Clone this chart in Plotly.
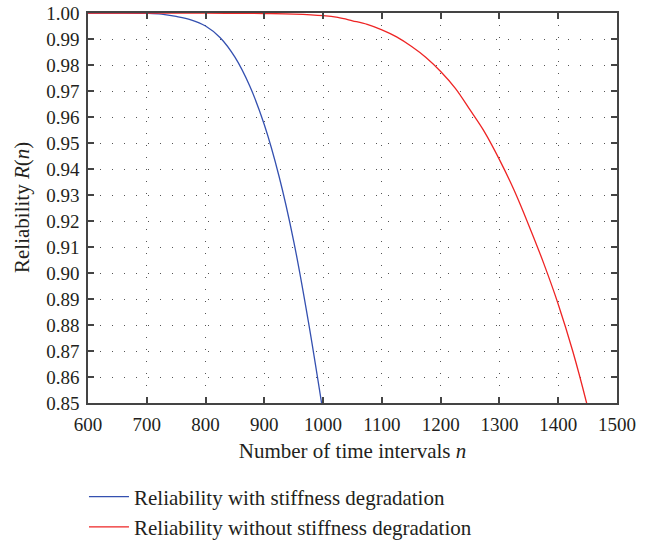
import plotly.graph_objects as go

# Data
n_with = [600, 650, 700, 725, 750, 775, 800, 825, 850, 875, 900, 925, 950, 975, 1000]
r_with = [1.0, 1.0, 0.9999, 0.9996, 0.9987, 0.9974, 0.9950, 0.9905, 0.9830, 0.9720,
          0.9570, 0.9372, 0.9122, 0.8812, 0.8462]

n_without = [600, 700, 800, 900, 950, 1000, 1025, 1050, 1075, 1100, 1125, 1150, 1175,
             1200, 1225, 1250, 1275, 1300, 1325, 1350, 1375, 1400, 1425, 1450, 1460]
r_without = [1.0, 1.0, 0.99995, 0.9998, 0.9996, 0.9990, 0.9983, 0.9970, 0.9956, 0.9935,
             0.9908, 0.9872, 0.9829, 0.9775, 0.9710, 0.9627, 0.9541, 0.9436, 0.9318,
             0.9183, 0.9039, 0.8880, 0.8697, 0.8485, 0.8390]

x_ticks = [600, 700, 800, 900, 1000, 1100, 1200, 1300, 1400, 1500]
y_ticks = [round(0.85 + 0.01 * i, 2) for i in range(16)]
y_tick_text = ["%.2f" % v for v in y_ticks]

names = ["Reliability with stiffness degradation",
         "Reliability without stiffness degradation"]
x_title = "Number of time intervals <i>n</i>"
y_title = "Reliability <i>R</i>(<i>n</i>)"

FONT = "Liberation Serif"
TXT = "#231f20"
AX = "#444444"

fig = go.Figure()
fig.add_trace(go.Scatter(x=n_with, y=r_with, mode="lines", name=names[0],
                         line=dict(color="#3450b0", width=1.3, shape="spline")))
fig.add_trace(go.Scatter(x=n_without, y=r_without, mode="lines", name=names[1],
                         line=dict(color="#ee2424", width=1.3, shape="spline")))

axis_common = dict(
    showline=True, linecolor=AX, linewidth=1.5, mirror="ticks",
    ticks="inside", ticklen=6, tickwidth=1.5, tickcolor=AX,
    showgrid=True, gridcolor="#555555", gridwidth=1, griddash="1px,11px",
    zeroline=False, automargin=False,
    tickfont=dict(family=FONT, size=19, color=TXT),
)

fig.update_xaxes(range=[600, 1500], tickvals=x_ticks,
                 title=dict(text=x_title,
                            font=dict(family=FONT, size=21, color=TXT), standoff=10),
                 ticklabelstandoff=3, **axis_common)
fig.update_yaxes(range=[0.85, 1.0], tickvals=y_ticks, ticktext=y_tick_text,
                 ticklabelstandoff=3, **axis_common)

PLOT_W = 654 - 88 - 37
fig.add_annotation(text=y_title, xref="paper", yref="paper",
                   x=-(88 - 22) / PLOT_W, y=0.5, xanchor="center", yanchor="middle",
                   textangle=-90, showarrow=False,
                   font=dict(family=FONT, size=21, color=TXT))

fig.update_layout(
    width=654, height=540,
    margin=dict(l=88, r=37, t=13, b=137, autoexpand=False),
    plot_bgcolor="white", paper_bgcolor="white",
    font=dict(family=FONT, size=21, color=TXT),
    showlegend=True,
    legend=dict(x=0.1284, y=0.1176, xref="container", yref="container",
                xanchor="left", yanchor="top",
                font=dict(family=FONT, size=21, color=TXT),
                bgcolor="rgba(0,0,0,0)", tracegroupgap=0, itemwidth=40),
)

fig.write_html("out.html", config={"displayModeBar": False},
               post_script="document.body.style.margin='0';")
